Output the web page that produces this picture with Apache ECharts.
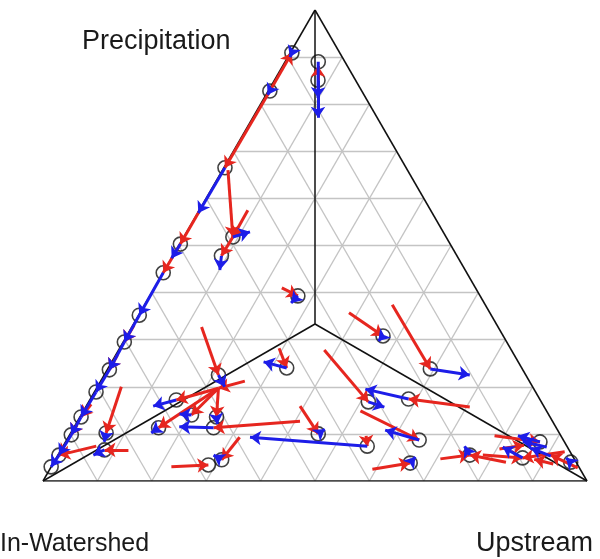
<!DOCTYPE html>
<html>
<head>
<meta charset="utf-8">
<script src="https://cdn.jsdelivr.net/npm/echarts@6/dist/echarts.min.js"></script>
<style>
  html, body { margin: 0; padding: 0; background: #fff; }
  #chart { width: 600px; height: 559px; }
</style>
</head>
<body>
<div id="chart"></div>
<script>
// ternary composition, every point is [Precipitation %, Upstream %]
// (In-Watershed share is the rest: 100 - P - U)
var cornerNames = ['Precipitation', 'In-Watershed', 'Upstream'];
var gridTicks = [10, 20, 30, 40, 50, 60, 70, 80, 90];

// black open circles (current composition)
var circles = [
    [90.9, 0.3], [82.8, 0.3], [89.0, 6.1], [85.1, 8.0], [66.5, 0.2],
    [51.8, 9.0], [47.8, 8.9], [50.3, 0.1], [44.2, 0.0], [39.3, 27.2],
    [35.2, 0.1], [29.5, 0.2], [23.6, 0.4], [18.9, 0.3], [13.6, 0.2],
    [9.8, 0.3], [5.5, 0.2], [3.0, 0.0], [10.2, 6.5], [6.6, 8.0],
    [30.8, 47.1], [23.8, 59.3], [16.8, 51.4], [17.4, 58.5], [8.7, 64.8],
    [10.0, 45.6], [7.4, 55.9], [3.8, 65.6], [5.5, 75.7], [8.3, 87.2],
    [4.9, 85.7], [4.0, 95.0], [24.0, 32.8], [22.5, 21.0], [17.2, 15.9],
    [14.0, 20.3], [11.3, 15.6], [13.6, 25.1], [11.3, 25.7], [3.4, 28.7],
    [4.5, 30.6]
];

// red arrows: [fromP, fromU, toP, toU]
var redArrows = [
    [82.8, 0.3, 90.9, 0.3], [82.8, 0.3, 66.5, 0.2], [85.1, 8.0, 88.1, 6.5],
    [66.0, 1.0, 51.8, 9.0], [57.5, 8.9, 51.8, 9.0], [51.8, 9.0, 47.8, 8.9],
    [58.0, 0.1, 50.3, 0.1], [50.3, 0.1, 44.2, 0.0], [41.0, 23.4, 39.3, 27.2],
    [35.7, 38.4, 30.8, 47.1], [37.4, 45.5, 23.8, 59.3], [27.8, 37.8, 16.8, 51.4],
    [15.7, 70.6, 17.4, 58.5], [14.9, 50.9, 8.7, 64.8], [15.9, 39.3, 10.0, 45.6],
    [9.6, 54.6, 7.4, 55.9], [2.5, 59.3, 3.8, 65.6], [4.7, 70.7, 5.5, 75.7],
    [4.0, 83.1, 5.5, 75.7], [28.2, 29.3, 24.0, 32.8], [32.7, 12.8, 22.5, 21.0],
    [19.7, 22.4, 17.2, 15.9], [19.7, 22.4, 14.0, 20.3], [19.7, 22.4, 11.3, 15.6],
    [19.7, 22.4, 13.6, 25.1], [21.2, 26.5, 19.7, 22.4], [12.7, 40.9, 11.3, 25.7],
    [3.0, 22.1, 3.4, 28.7], [9.3, 31.5, 4.5, 30.6], [20.0, 4.4, 10.2, 6.5],
    [6.6, 12.4, 6.6, 8.0], [5.5, 78.1, 4.9, 85.7], [9.6, 78.2, 8.3, 87.2],
    [2.8, 96.9, 5.5, 90.6], [6.2, 92.8, 4.9, 85.7], [33.1, 0.2, 29.5, 0.2],
    [26.8, 0.3, 23.6, 0.4], [16.3, 0.7, 13.6, 0.2], [11.9, 0.3, 9.8, 0.3],
    [7.0, 0.6, 5.5, 0.2], [7.4, 6.1, 5.5, 0.2], [3.6, 92.0, 4.6, 88.0],
    [6.8, 80.5, 7.6, 84.6]
];

// blue arrows: [fromP, fromU, toP, toU]
var blueArrows = [
    [85.1, 8.0, 77.1, 12.0], [89.0, 6.1, 81.3, 9.9], [66.5, 0.2, 56.9, 0.1],
    [51.8, 9.0, 52.9, 11.6], [47.8, 8.9, 44.8, 10.1], [50.3, 0.1, 47.3, 0.0],
    [44.2, 0.0, 35.2, 0.1], [35.2, 0.1, 29.5, 0.2], [29.5, 0.2, 23.6, 0.4],
    [23.6, 0.4, 18.9, 0.3], [18.9, 0.3, 13.6, 0.2], [13.6, 0.2, 9.8, 0.3],
    [9.8, 0.3, 5.5, 0.2], [5.5, 0.2, 3.0, 0.0], [39.3, 27.2, 37.8, 26.7],
    [30.8, 47.1, 29.7, 46.8], [23.8, 59.3, 22.5, 67.2], [16.8, 51.4, 15.7, 54.9],
    [17.4, 58.5, 19.5, 49.5], [8.7, 64.8, 10.8, 57.5], [10.0, 45.6, 11.0, 46.3],
    [7.4, 55.9, 9.3, 33.4], [3.8, 65.6, 5.1, 65.9], [5.5, 75.7, 7.4, 73.8],
    [24.0, 32.8, 25.3, 27.9], [22.5, 21.0, 20.0, 23.4], [17.2, 15.9, 15.9, 12.3],
    [11.3, 25.7, 11.5, 19.3], [13.6, 25.1, 12.1, 26.0], [14.0, 20.3, 14.2, 18.0],
    [11.3, 15.6, 10.2, 14.8], [4.5, 30.6, 5.5, 28.6], [8.3, 87.2, 9.6, 82.5],
    [4.9, 85.7, 7.2, 80.9], [4.0, 95.0, 4.9, 93.7], [10.2, 6.5, 8.3, 7.1],
    [6.6, 8.0, 5.5, 6.5], [90.9, 0.3, 90.0, 0.4], [82.8, 0.3, 82.0, 0.3],
    [5.3, 90.7, 7.0, 86.2], [7.2, 89.0, 8.4, 84.0]
];

// ternary -> plane (x along base, y = precipitation height)
function toXY(p, u) {
    return [(u + p / 2) / 100, p / 100];
}

var gridSegs = [];
gridTicks.forEach(function (t) {
    gridSegs.push({ coords: [toXY(t, 0), toXY(t, 100 - t)] });       // precipitation
    gridSegs.push({ coords: [toXY(0, t), toXY(100 - t, t)] });       // upstream
    gridSegs.push({ coords: [toXY(0, 100 - t), toXY(100 - t, 0)] }); // in-watershed
});

var c = toXY(100 / 3, 100 / 3);
var frameSegs = [
    { coords: [toXY(100, 0), toXY(0, 0)] },
    { coords: [toXY(0, 0), toXY(0, 100)] },
    { coords: [toXY(0, 100), toXY(100, 0)] },
    { coords: [c, toXY(100, 0)] },
    { coords: [c, toXY(0, 0)] },
    { coords: [c, toXY(0, 100)] }
];

function arrowData(list) {
    return list.map(function (a) {
        return { coords: [toXY(a[0], a[1]), toXY(a[2], a[3])] };
    });
}

var chart = echarts.init(document.getElementById('chart'));
var labelFont = '27px "Liberation Sans", Arial, sans-serif';

var option = {
    animation: false,
    backgroundColor: '#fff',
    grid: { left: 43, right: 13, top: 10, bottom: 78 },
    xAxis: { type: 'value', min: 0, max: 1, show: false },
    yAxis: { type: 'value', min: 0, max: 1, show: false },
    graphic: [
        { type: 'text', left: 82, top: 28, style: { text: cornerNames[0], font: labelFont, fill: '#1a1a1a' } },
        { type: 'text', left: 0, top: 532, style: { text: cornerNames[1], font: '25px "Liberation Sans", Arial, sans-serif', fill: '#1a1a1a' } },
        { type: 'text', left: 476, top: 530, style: { text: cornerNames[2], font: labelFont, fill: '#1a1a1a' } }
    ],
    series: [
        {
            type: 'lines', coordinateSystem: 'cartesian2d', silent: true, z: 1,
            symbol: 'none',
            lineStyle: { color: '#c4c4c4', width: 1.3, opacity: 1 },
            data: gridSegs
        },
        {
            type: 'lines', coordinateSystem: 'cartesian2d', silent: true, z: 2,
            symbol: 'none',
            lineStyle: { color: '#111', width: 1.5, opacity: 1 },
            data: frameSegs
        },
        {
            type: 'scatter', z: 3, symbol: 'circle', symbolSize: 14,
            itemStyle: { color: 'rgba(0,0,0,0)', borderColor: '#111', borderWidth: 1.6 },
            data: circles.map(function (p) { return toXY(p[0], p[1]); })
        },
        {
            type: 'lines', coordinateSystem: 'cartesian2d', z: 4,
            symbol: ['none', 'arrow'], symbolSize: 11,
            lineStyle: { color: '#e6261f', width: 3, opacity: 1 },
            data: arrowData(redArrows)
        },
        {
            type: 'lines', coordinateSystem: 'cartesian2d', z: 5,
            symbol: ['none', 'arrow'], symbolSize: 11,
            lineStyle: { color: '#1d1de8', width: 3, opacity: 1 },
            data: arrowData(blueArrows)
        }
    ]
};

chart.setOption(option);
</script>
</body>
</html>
